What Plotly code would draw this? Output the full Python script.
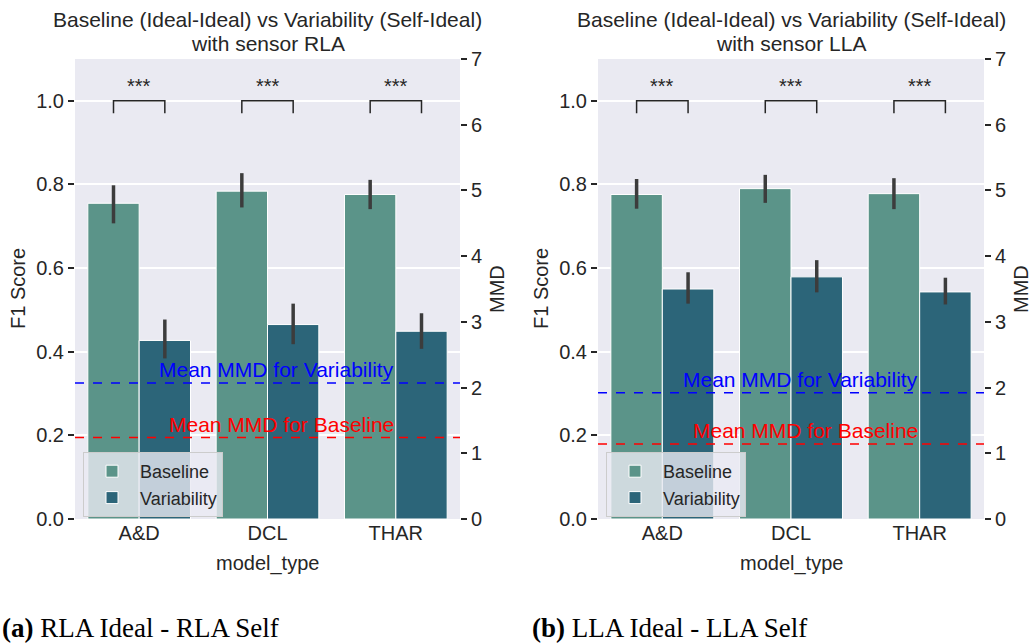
import plotly.graph_objects as go

# ---- data -------------------------------------------------------------
models = ["A&D", "DCL", "THAR"]

# sensor RLA
rla_baseline = [0.755, 0.784, 0.776]
rla_baseline_hi = [0.798, 0.827, 0.811]
rla_baseline_lo = [0.707, 0.745, 0.741]
rla_variability = [0.427, 0.465, 0.449]
rla_variability_hi = [0.477, 0.515, 0.492]
rla_variability_lo = [0.384, 0.418, 0.407]
rla_mmd_baseline = 1.24
rla_mmd_variability = 2.07

# sensor LLA
lla_baseline = [0.776, 0.790, 0.778]
lla_baseline_hi = [0.813, 0.823, 0.815]
lla_baseline_lo = [0.742, 0.756, 0.741]
lla_variability = [0.550, 0.579, 0.543]
lla_variability_hi = [0.590, 0.619, 0.577]
lla_variability_lo = [0.515, 0.542, 0.513]
lla_mmd_baseline = 1.14
lla_mmd_variability = 1.92

sig_labels = ["***", "***", "***"]
bracket_top = 1.0
bracket_leg = 0.97

f1_ticks = [0.0, 0.2, 0.4, 0.6, 0.8, 1.0]
mmd_ticks = [0, 1, 2, 3, 4, 5, 6, 7]

# ---- styling ----------------------------------------------------------
W, H = 1032, 643
FONT = "Liberation Sans, Arial, sans-serif"
TXT = "#262626"
C_BASE = "#5b9489"
C_VAR = "#2c6579"
BG = "#EAEAF2"


def px(x):
    return x / W


def py(y):
    return 1 - y / H


panels = [
    dict(name="RLA", base=rla_baseline, base_hi=rla_baseline_hi, base_lo=rla_baseline_lo,
         var=rla_variability, var_hi=rla_variability_hi, var_lo=rla_variability_lo,
         mmd_b=rla_mmd_baseline, mmd_v=rla_mmd_variability,
         x0=75, x1=460, caption="<b>(a)</b> RLA Ideal - RLA Self", cap_x=0),
    dict(name="LLA", base=lla_baseline, base_hi=lla_baseline_hi, base_lo=lla_baseline_lo,
         var=lla_variability, var_hi=lla_variability_hi, var_lo=lla_variability_lo,
         mmd_b=lla_mmd_baseline, mmd_v=lla_mmd_variability,
         x0=598, x1=984, caption="<b>(b)</b> LLA Ideal - LLA Self", cap_x=530),
]

TOP, BOT = 59, 519
idx = list(range(len(models)))

fig = go.Figure()
annotations = []
layout_axes = {}

for k, p in enumerate(panels):
    xa = "x" if k == 0 else "x2"
    ya = "y" if k == 0 else "y3"
    ya2 = "y2" if k == 0 else "y4"
    leg = "legend" if k == 0 else "legend2"

    for vals, hi, lo, color, label in [
        (p["base"], p["base_hi"], p["base_lo"], C_BASE, "Baseline"),
        (p["var"], p["var_hi"], p["var_lo"], C_VAR, "Variability"),
    ]:
        fig.add_trace(go.Bar(
            x=idx, y=vals, name=label, xaxis=xa, yaxis=ya, legend=leg,
            marker=dict(color=color, line=dict(color="white", width=1)),
            error_y=dict(type="data", symmetric=False,
                         array=[h - v for h, v in zip(hi, vals)],
                         arrayminus=[v - l for v, l in zip(vals, lo)],
                         color="#3c3c3c", thickness=3.5, width=0),
        ))

    # significance brackets between the two bars of each model
    for i, lab in zip(idx, sig_labels):
        xl, xr = i - 0.2, i + 0.2
        fig.add_trace(go.Scatter(
            x=[xl, xl, xr, xr], y=[bracket_leg, bracket_top, bracket_top, bracket_leg],
            mode="lines", line=dict(color=TXT, width=1.5),
            xaxis=xa, yaxis=ya, showlegend=False, hoverinfo="skip"))
        annotations.append(dict(
            x=i, y=bracket_top + 0.005, xref=xa, yref=ya, text=lab, showarrow=False,
            xanchor="center", yanchor="bottom", font=dict(size=20, color=TXT, family=FONT)))

    # mean MMD reference lines on the secondary axis
    for val, color, text in [(p["mmd_v"], "blue", "Mean MMD for Variability"),
                             (p["mmd_b"], "red", "Mean MMD for Baseline")]:
        fig.add_trace(go.Scatter(
            x=[-0.5, 2.5], y=[val, val], mode="lines",
            line=dict(color=color, width=1.5, dash="dash"),
            xaxis=xa, yaxis=ya2, showlegend=False, hoverinfo="skip"))
        annotations.append(dict(
            x=2, y=val, xref=xa, yref=ya2, text=text, showarrow=False,
            xanchor="right", yanchor="bottom", yshift=0,
            font=dict(size=21, color=color, family=FONT)))

    dom_x = [px(p["x0"]), px(p["x1"])]
    dom_y = [py(BOT), py(TOP)]
    xk = "xaxis" if k == 0 else "xaxis2"
    yk = "yaxis" if k == 0 else "yaxis3"
    y2k = "yaxis2" if k == 0 else "yaxis4"
    layout_axes[xk] = dict(
        domain=dom_x, range=[-0.5, 2.5], tickvals=idx, ticktext=models,
        showgrid=False, zeroline=False, showline=False, ticks="", automargin=False,
        tickfont=dict(size=20, color=TXT, family=FONT), anchor=ya)
    layout_axes[yk] = dict(
        domain=dom_y, range=[0, 1.1], tickvals=f1_ticks, tickformat=".1f",
        showgrid=True, gridcolor="white", gridwidth=1.5, zeroline=False, showline=False,
        ticks="outside", ticklen=6, tickwidth=1.5, tickcolor=TXT, automargin=False,
        tickfont=dict(size=20, color=TXT, family=FONT), anchor=xa)
    layout_axes[y2k] = dict(
        domain=dom_y, range=[0, 7], tickvals=mmd_ticks, overlaying=ya, side="right",
        showgrid=False, zeroline=False, showline=False, automargin=False,
        ticks="outside", ticklen=6, tickwidth=1.5, tickcolor=TXT,
        tickfont=dict(size=20, color=TXT, family=FONT), anchor=xa)

    cx = (p["x0"] + p["x1"]) / 2
    # two-line title
    annotations.append(dict(
        x=px(cx), y=py(20), xref="paper", yref="paper", showarrow=False,
        text="Baseline (Ideal-Ideal) vs Variability (Self-Ideal)",
        xanchor="center", yanchor="middle", font=dict(size=21, color=TXT, family=FONT)))
    annotations.append(dict(
        x=px(cx), y=py(43), xref="paper", yref="paper", showarrow=False,
        text=f"with sensor {p['name']}",
        xanchor="center", yanchor="middle", font=dict(size=21, color=TXT, family=FONT)))
    # axis titles
    annotations.append(dict(
        x=px(cx), y=py(563), xref="paper", yref="paper", showarrow=False, text="model_type",
        xanchor="center", yanchor="middle", font=dict(size=20, color=TXT, family=FONT)))
    annotations.append(dict(
        x=px(p["x0"] - 57), y=py(289), xref="paper", yref="paper", showarrow=False,
        text="F1 Score", textangle=-90, xanchor="center", yanchor="middle",
        font=dict(size=20, color=TXT, family=FONT)))
    annotations.append(dict(
        x=px(p["x1"] + 37), y=py(289), xref="paper", yref="paper", showarrow=False,
        text="MMD", textangle=-90, xanchor="center", yanchor="middle",
        font=dict(size=20, color=TXT, family=FONT)))
    # caption
    annotations.append(dict(
        x=px(p["cap_x"]), y=py(628), xref="paper", yref="paper", showarrow=False,
        text=p["caption"], xanchor="left", yanchor="middle",
        font=dict(size=27, color="black", family="Liberation Serif, Times New Roman, serif")))

legend_style = dict(
    bgcolor="rgba(234,234,242,0.8)", bordercolor="#cccccc", borderwidth=1,
    font=dict(size=18, color=TXT, family=FONT), xanchor="left", yanchor="top",
    tracegroupgap=0, itemwidth=46)

fig.update_layout(
    width=W, height=H, margin=dict(l=0, r=0, t=0, b=0, autoexpand=False),
    paper_bgcolor="white", plot_bgcolor=BG,
    barmode="group", bargap=0.2, bargroupgap=0,
    showlegend=True,
    legend=dict(x=px(83), y=py(452), **legend_style),
    legend2=dict(x=px(606), y=py(452), **legend_style),
    annotations=annotations,
    **layout_axes,
)

fig.write_html("out.html")
